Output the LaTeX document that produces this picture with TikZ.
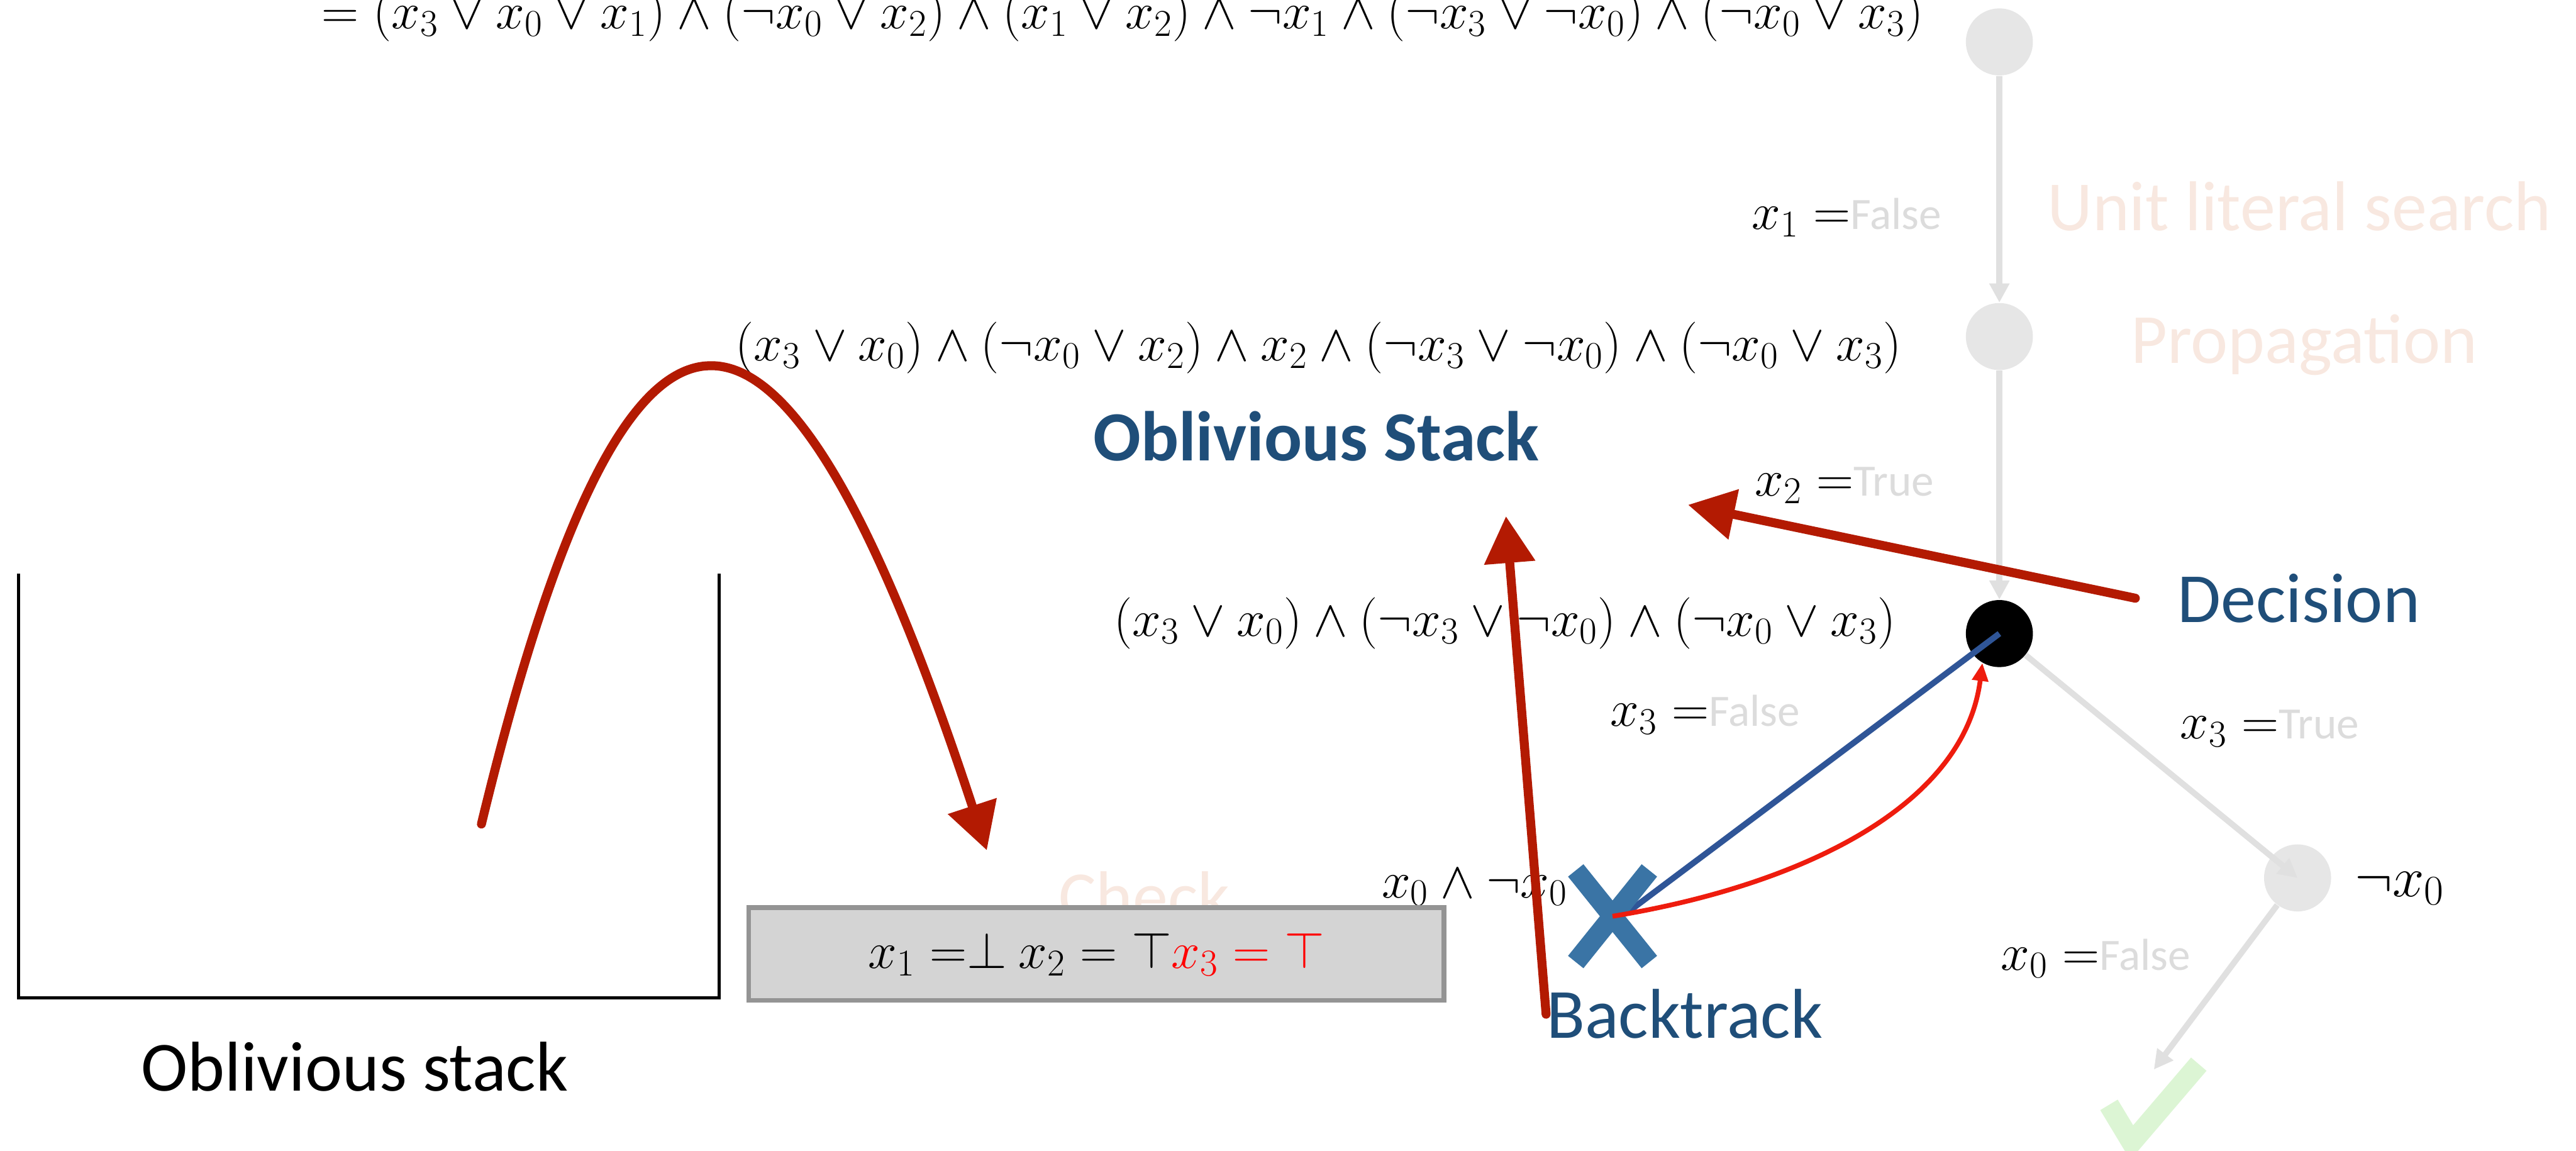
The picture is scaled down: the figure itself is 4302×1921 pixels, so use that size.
\documentclass[tikz,border=0pt]{standalone}
\usepackage{fix-cm}
\usepackage[no-math]{fontspec}
\setmainfont{Carlito}
\usetikzlibrary{arrows.meta,shapes.misc}
\definecolor{nodegray}{HTML}{E6E6E6}
\definecolor{linegray}{HTML}{E0E0E0}
\definecolor{faintgray}{HTML}{DCDCDC}
\definecolor{faintpink}{HTML}{F8E8E0}
\definecolor{deepblue}{HTML}{1F4E79}
\definecolor{crossblue}{HTML}{3A74A5}
\definecolor{lineblue}{HTML}{2F5597}
\definecolor{brightred}{HTML}{EE1C0E}
\definecolor{penred}{HTML}{B31A02}
\definecolor{boxfill}{HTML}{D4D4D4}
\definecolor{boxdraw}{HTML}{949494}
\definecolor{boxred}{HTML}{FF0000}
\definecolor{tickgreen}{HTML}{DCF5D4}
\DeclareMathSizes{24.5}{24.5}{18}{13}
\DeclareMathSizes{27}{27}{20}{14}
\newcommand{\bigtxt}{\fontsize{33.5}{40}\selectfont}
\newcommand{\valtxt}{\fontsize{21.3}{26}\selectfont}
\newcommand{\mathtxt}{\fontsize{24.5}{29}\selectfont}
\newcommand{\val}[1]{{\valtxt\textcolor{faintgray}{#1}}}
\tikzset{
  >=Latex,
  every node/.style={inner sep=0pt},
  formula/.style={font=\mathtxt,anchor=base west},
  assign/.style={font=\mathtxt,anchor=base west},
  phase/.style={font=\bigtxt,text=faintpink,anchor=base west},
  action/.style={font=\bigtxt,text=deepblue,anchor=base west},
  treenode/.style={circle,fill=nodegray,minimum size=11.2mm},
  decnode/.style={treenode,fill=black},
  treearrow/.style={-{Triangle[length=3.2mm,width=3.2mm]},line width=1mm,draw=linegray},
  tick/.style={line width=3.4mm,draw=tickgreen},
  stackwall/.style={line width=0.5mm,draw=black},
  assignbox/.style={draw=boxdraw,line width=0.8mm,fill=boxfill,minimum width=116.1mm,minimum height=15.5mm,font=\mathtxt},
  crossmark/.style={cross out,draw=crossblue,line width=3.3mm,minimum width=9mm,minimum height=12mm},
  undo/.style={line width=1mm,draw=lineblue},
  retry/.style={-{Triangle[length=3mm,width=2.6mm]},line width=0.8mm,draw=brightred},
  pen/.style={-{Triangle[length=7.8mm,width=8.2mm]},line width=1.5mm,draw=penred,line cap=round},
}

\begin{document}
\begin{tikzpicture}[x=0.1mm,y=-0.1mm]
\useasboundingbox (0,0) rectangle (4302,1921);

% formulas
\node[formula] (f0) at (537,48) {$= (x_3 \lor x_0 \lor x_1) \land (\lnot x_0 \lor x_2) \land (x_1 \lor x_2) \land \lnot x_1 \land (\lnot x_3 \lor \lnot x_0) \land (\lnot x_0 \lor x_3)$};
\node[formula] (f1) at (1228,602) {$(x_3 \lor x_0) \land (\lnot x_0 \lor x_2) \land x_2 \land (\lnot x_3 \lor \lnot x_0) \land (\lnot x_0 \lor x_3)$};
\node[formula] (f2) at (1860,1062) {$(x_3 \lor x_0) \land (\lnot x_3 \lor \lnot x_0) \land (\lnot x_0 \lor x_3)$};

% search tree
\node[treenode] (root) at (3339,70) {};
\node[treenode] (prop) at (3339,562) {};
\node[decnode] (pick) at (3339,1058) {};
\node[treenode] (negx) at (3837,1466) {};
\coordinate (sat) at (3597,1786);

\draw[treearrow] (root) -- (prop);
\draw[treearrow] (prop) -- (pick);
\draw[treearrow] (pick) -- (negx.center);
\draw[treearrow] (negx) -- (sat);
\draw[tick] (3522,1845) -- (3560,1908) -- (3672,1777);

% branch labels
\node[assign] (a1) at (2925,383) {$x_1 =$\val{False}};
\node[assign] (a2) at (2930,828) {$x_2 =$\val{True}};
\node[assign] (a3) at (2689,1213) {$x_3 =$\val{False}};
\node[assign] (a4) at (3640,1234) {$x_3 =$\val{True}};
\node[assign] (a5) at (3341,1620) {$x_0 =$\val{False}};
\node[assign,font=\fontsize{27}{32}\selectfont] (lit) at (3932,1497) {$\lnot x_0$};
\node[assign] (clash) at (2307,1499) {$x_0 \land \lnot x_0$};

% phases
\node[phase] (unit) at (3418,385) {Unit literal search};
\node[phase] (propag) at (3558,607) {Propagation};
\node[phase] (check) at (1767,1537) {Check};
\node[action,font=\bigtxt\bfseries] (ostack) at (1825,769) {Oblivious Stack};
\node[action] (declbl) at (3636,1039) {Decision};
\node[action] (btlbl) at (2582,1734) {Backtrack};

% stack
\draw[stackwall] (31,958) |- (1201,1666) -- (1201,958);
\node[font=\bigtxt,anchor=base west] (stacklbl) at (235,1822) {Oblivious stack};
\node[assignbox] (trail) at (1831,1593) {{$x_1 =$}{$\bot$} {$x_2 = \top$}{\color{boxred}$x_3 = \top$}};

% backtracking
\draw[undo] (pick.center) -- (2720,1522);
\node[crossmark] (cross) at (2693,1530) {};
\draw[retry] (cross.center) .. controls (3000,1480) and (3280,1350) .. (pick.240);

% hand-drawn arrows
\coordinate (pushfrom) at (804,1376);
\coordinate (pushto) at (1648,1420);
\coordinate (poptip) at (2515,862);
\coordinate (picktip) at (2819,843);
\draw[pen] (pushfrom) .. controls (1050,360) and (1300,360) .. (pushto);
\draw[pen] (btlbl.west) -- (poptip);
\draw[pen] ([xshift=-7mm]declbl.west) -- (picktip);

\end{tikzpicture}
\end{document}
